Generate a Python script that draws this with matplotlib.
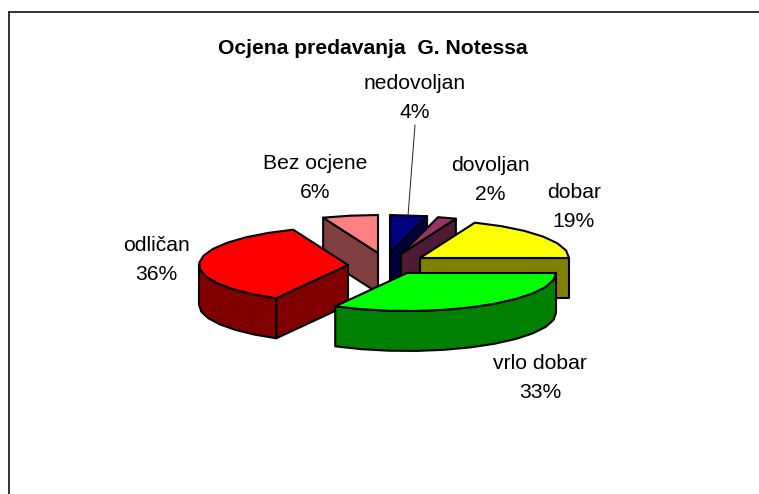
import numpy as np
import matplotlib
matplotlib.use("Agg")
import matplotlib.pyplot as plt
from matplotlib.patches import Polygon

categories = ["nedovoljan", "dovoljan", "dobar", "vrlo dobar", "odličan", "Bez ocjene"]
values = [4, 2, 19, 33, 36, 6]
percent_labels = ["4%", "2%", "19%", "33%", "36%", "6%"]

top_colors = ["#000080", "#993366", "#FFFF00", "#00FF00", "#FF0000", "#FF8080"]
side_colors = ["#000040", "#4D1933", "#808000", "#008000", "#800000", "#804040"]

# apex of each exploded slice, in pixels
apex = [(390, 253), (401, 254), (420, 258), (407, 273), (348, 265), (378, 253)]
label_pos = [(415, 98), (490, 180), (574, 207), (540, 378), (156, 260), (315, 178)]
draw_order = [5, 0, 1, 2, 4, 3]

a = 149
b = 38
depth = 40

fig = plt.figure(figsize=(7.59, 4.94), dpi=100)
ax = fig.add_axes([0, 0, 1, 1])
ax.set_xlim(0, 759)
ax.set_ylim(494, 0)
ax.axis("off")

# frame: only the top and left lines show
ax.plot([9, 759], [12, 12], color="#222222", lw=1.3)
ax.plot([9, 9], [12, 494], color="#222222", lw=1.3)


def pt(c, ang):
    r = np.radians(ang)
    return (c[0] + a * np.sin(r), c[1] - b * np.cos(r))


def arc(c, a1, a2):
    n = max(2, int(abs(a2 - a1) / 10) + 1)
    return [pt(c, x) for x in np.linspace(a1, a2, n)]


def down(points):
    return [(x, y + depth) for x, y in points]


def face(points, color):
    ax.add_patch(Polygon(points, closed=True, fc=color, ec="black", lw=1.5, joinstyle="round"))


cum = np.cumsum([0] + values) / sum(values) * 360
for i in draw_order:
    c = apex[i]
    a1, a2 = cum[i], cum[i + 1]
    # cut face at the start of the slice
    if 180 < a1 < 360:
        edge = [c, pt(c, a1)]
        face(edge + down(edge)[::-1], side_colors[i])
    # cut face at the end of the slice
    if 0 < a2 < 180:
        edge = [c, pt(c, a2)]
        face(edge + down(edge)[::-1], side_colors[i])
    # outer wall, only the front half shows
    w1, w2 = max(a1, 90), min(a2, 270)
    if w1 < w2:
        rim = arc(c, w1, w2)
        face(rim + down(rim)[::-1], side_colors[i])
    face([c] + arc(c, a1, a2), top_colors[i])

for i in range(len(categories)):
    ax.text(label_pos[i][0], label_pos[i][1], categories[i] + "\n" + percent_labels[i], ha="center", va="center",
            fontsize=15.2, family="Liberation Sans", linespacing=1.7, color="black")

ax.plot([415, 408], [125, 216], color="#222222", lw=0.7)

ax.text(373, 48, "Ocjena predavanja  G. Notessa", ha="center", va="center", fontsize=15.2,
        fontweight="bold", family="Liberation Sans", color="black")

fig.savefig("out.png", dpi=100)
